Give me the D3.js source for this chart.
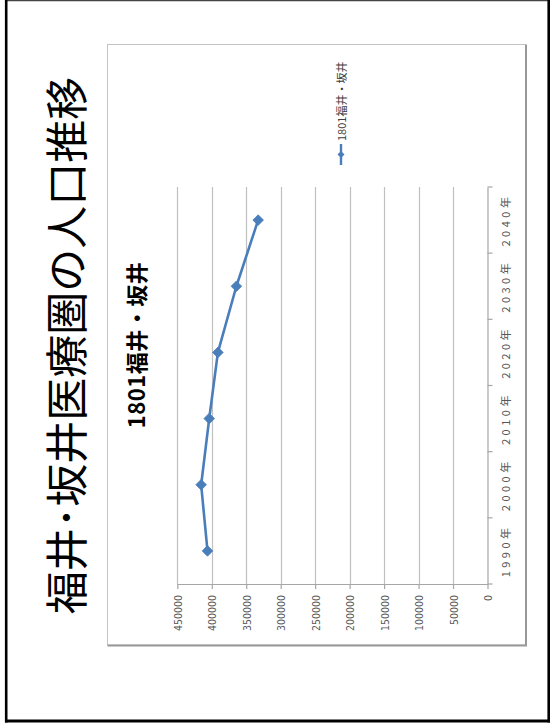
<!DOCTYPE html>
<html>
<head>
<meta charset="utf-8">
<script src="https://cdn.jsdelivr.net/npm/d3@7"></script>
<style>
  html, body { margin: 0; padding: 0; background: #fff; }
  svg { display: block; }
</style>
</head>
<body>
<script>
// Population of the Fukui–Sakai secondary medical area, by census/projection year
const years = ["1990年", "2000年", "2010年", "2020年", "2030年", "2040年"];
const population = [406200, 415400, 403700, 391100, 364300, 332700];
const valueTicks = [0, 50000, 100000, 150000, 200000, 250000, 300000, 350000, 400000, 450000];
const seriesName = "1801福井・坂井";
const pageTitle = "福井･坂井医療圏の人口推移";

const W = 550, H = 726;
const svg = d3.select("body").append("svg")
  .attr("width", W).attr("height", H);

svg.append("rect").attr("width", W).attr("height", H).attr("fill", "#fff");

// Slide frame
svg.append("line").attr("x1", 5).attr("x2", 549).attr("y1", 0.6).attr("y2", 0.6)
  .attr("stroke", "#444").attr("stroke-width", 1.3);
svg.append("line").attr("x1", 6.2).attr("x2", 6.2).attr("y1", 0).attr("y2", 722.5)
  .attr("stroke", "#000").attr("stroke-width", 2.6);
svg.append("line").attr("x1", 548.7).attr("x2", 548.7).attr("y1", 0).attr("y2", 722.5)
  .attr("stroke", "#000").attr("stroke-width", 2.6);
svg.append("line").attr("x1", 5).attr("x2", 550).attr("y1", 721).attr("y2", 721)
  .attr("stroke", "#000").attr("stroke-width", 3);

// Slide title, read bottom to top
svg.append("text")
  .attr("transform", "translate(64,345.5) rotate(-90)")
  .attr("text-anchor", "middle")
  .attr("dominant-baseline", "central")
  .attr("font-family", "'Noto Sans CJK JP', sans-serif")
  .attr("font-size", 43)
  .attr("fill", "#000")
  .text(pageTitle);

// Chart area box
const box = { x0: 107.5, y0: 44.5, x1: 525.5, y1: 645 };
svg.append("rect")
  .attr("x", box.x0).attr("y", box.y0)
  .attr("width", box.x1 - box.x0).attr("height", box.y1 - box.y0)
  .attr("fill", "#fff").attr("stroke", "#c4c4c4").attr("stroke-width", 1);
svg.append("path")
  .attr("d", `M${box.x1 + 0.5},${box.y0} V${box.y1 + 0.5} H${box.x0}`)
  .attr("fill", "none").attr("stroke", "#999").attr("stroke-width", 2);

// Scales: the chart is turned a quarter turn, values run right-to-left, years bottom-to-top
const x = d3.scaleLinear().domain([0, 450000]).range([487.5, 177.3]);
const y = d3.scaleBand().domain(years).range([584, 187]).paddingInner(0).paddingOuter(0);
const plotTop = 187, plotBottom = 584;

// Gridlines
svg.append("g").selectAll("line")
  .data(valueTicks.filter(v => v > 0))
  .join("line")
  .attr("x1", d => Math.round(x(d)) + 0.5).attr("x2", d => Math.round(x(d)) + 0.5)
  .attr("y1", plotTop).attr("y2", plotBottom)
  .attr("stroke", "#c0c0c0").attr("stroke-width", 1.2);

// Value axis (along the bottom)
const valueAxis = svg.append("g")
  .attr("transform", `translate(0,${plotBottom})`)
  .call(d3.axisBottom(x).tickValues(valueTicks).tickSize(5).tickSizeOuter(0).tickFormat(d3.format("d")));
valueAxis.select(".domain").attr("stroke", "#a6a6a6").attr("stroke-width", 1.2);
valueAxis.selectAll(".tick line").attr("stroke", "#a6a6a6").attr("stroke-width", 1.2);
valueAxis.selectAll(".tick text")
  .attr("transform", "translate(0,11) rotate(-90)")
  .attr("x", 0).attr("y", 0).attr("dy", null)
  .attr("text-anchor", "end")
  .attr("dominant-baseline", "central")
  .attr("font-family", "'Liberation Sans Narrow', 'DejaVu Sans Condensed', 'Liberation Sans', sans-serif")
  .attr("font-size", 10.5)
  .attr("fill", "#595959");

// Category axis (along the right side)
const catAxis = svg.append("g")
  .attr("transform", `translate(${x(0)},0)`)
  .call(d3.axisRight(y).tickSize(0).tickSizeOuter(0));
catAxis.select(".domain").attr("stroke", "#a6a6a6").attr("stroke-width", 1.2);
catAxis.selectAll(".tick text")
  .attr("transform", "translate(17.5,0) rotate(-90)")
  .attr("x", 0).attr("y", 0).attr("dy", null)
  .attr("text-anchor", "middle")
  .attr("dominant-baseline", "central")
  .attr("letter-spacing", 3.5)
  .attr("font-family", "'Noto Sans CJK JP', sans-serif")
  .attr("font-size", 11)
  .attr("fill", "#595959");

// Tick marks between the years
const boundaryPos = years.map(d => y(d) + y.bandwidth()).concat([y(years[years.length - 1])]);
catAxis.append("g").selectAll("line")
  .data(boundaryPos)
  .join("line")
  .attr("x1", 0).attr("x2", 5)
  .attr("y1", d => d).attr("y2", d => d)
  .attr("stroke", "#a6a6a6").attr("stroke-width", 1.2);

// Chart title
svg.append("text")
  .attr("transform", "translate(135,345) rotate(-90)")
  .attr("text-anchor", "middle")
  .attr("dominant-baseline", "central")
  .attr("font-family", "'Noto Sans CJK JP', sans-serif")
  .attr("font-weight", 700)
  .attr("font-size", 22)
  .attr("letter-spacing", 0.5)
  .attr("fill", "#000")
  .text(seriesName);

// Series line and diamond markers
const blue = "#4a7ebb";
const line = d3.line()
  .x(d => x(d))
  .y((d, i) => y(years[i]) + y.bandwidth() / 2);
svg.append("path")
  .datum(population)
  .attr("d", line)
  .attr("fill", "none")
  .attr("stroke", blue)
  .attr("stroke-width", 2.6)
  .attr("stroke-linejoin", "round");

const diamond = r => `M0,${-r} L${r},0 L0,${r} L${-r},0 Z`;
svg.append("g").selectAll("path")
  .data(population)
  .join("path")
  .attr("transform", (d, i) => `translate(${x(d)},${y(years[i]) + y.bandwidth() / 2})`)
  .attr("d", diamond(5.3))
  .attr("fill", blue)
  .attr("stroke", blue)
  .attr("stroke-width", 0.8);

// Legend
const legend = svg.append("g").attr("transform", "translate(341,0)");
legend.append("line")
  .attr("x1", 0).attr("x2", 0).attr("y1", 165).attr("y2", 144)
  .attr("stroke", blue).attr("stroke-width", 2.4);
legend.append("path")
  .attr("transform", "translate(0,154.5)")
  .attr("d", diamond(3.5))
  .attr("fill", blue);
legend.append("text")
  .attr("transform", "translate(0,141) rotate(-90)")
  .attr("text-anchor", "start")
  .attr("dominant-baseline", "central")
  .attr("font-family", "'Noto Sans CJK JP', sans-serif")
  .attr("font-size", 11)
  .attr("fill", "#404040")
  .text(seriesName);
</script>
</body>
</html>
